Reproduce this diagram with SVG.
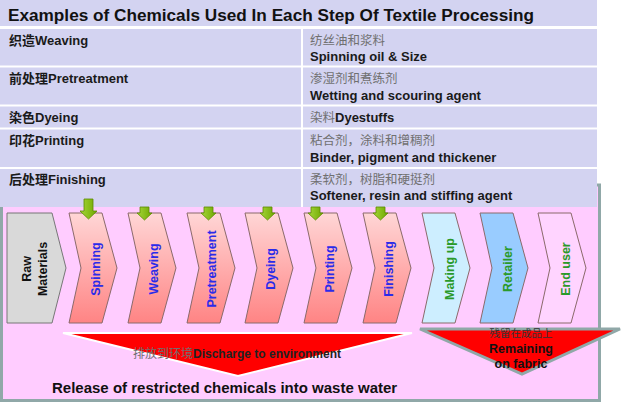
<svg xmlns="http://www.w3.org/2000/svg" width="622" height="404" viewBox="0 0 622 404">
<defs>
<linearGradient id="redG" x1="0" y1="0" x2="0" y2="1">
<stop offset="0" stop-color="#ffd6d6"/>
<stop offset="1" stop-color="#ff8484"/>
</linearGradient>
<linearGradient id="greenG" x1="0" y1="0" x2="1" y2="0">
<stop offset="0" stop-color="#a6d63a"/>
<stop offset="1" stop-color="#6fa800"/>
</linearGradient>
</defs>
<style>
text { font-family: "Liberation Sans", "Noto Sans CJK SC", sans-serif; }
.title { font-size: 17.2px; font-weight: bold; fill: #111; }
.cell { font-size: 13px; font-weight: bold; fill: #1a1a1a; }
.cn { font-size: 12.5px; font-weight: normal; fill: #707070; }
.band { fill: #d3d3f1; }
.sep { stroke: #ffffff; stroke-width: 2; }
.chev { stroke: #8a6a6a; stroke-width: 1; }
.red { fill: url(#redG); }
.lbl { font-size: 12.5px; font-weight: bold; text-anchor: middle; }
.blue { fill: #2b2bea; }
.green { fill: #2a9a2a; }
.arrow { fill: url(#greenG); stroke: #5c8c00; stroke-width: 0.8; }
</style>

<g id="panel">
<rect x="1.5" y="185" width="598" height="215.5" fill="#ffccff" stroke="#90a8a8" stroke-width="3"/>
</g>

<g id="table">
<rect class="band" x="0" y="0" width="597" height="26"/>
<text class="title" x="8" y="21">Examples of Chemicals Used In Each Step Of Textile Processing</text>
<rect class="band" x="0" y="29" width="597" height="178"/>
<line class="sep" x1="0" y1="66.5" x2="597" y2="66.5"/>
<line class="sep" x1="0" y1="105.5" x2="597" y2="105.5"/>
<line class="sep" x1="0" y1="128.5" x2="597" y2="128.5"/>
<line class="sep" x1="0" y1="168" x2="597" y2="168"/>
<line class="sep" x1="302" y1="29" x2="302" y2="207"/>
</g>

<g id="row-weaving">
<text class="cell" x="9" y="45">织造Weaving</text>
<text class="cn" x="310" y="45">纺丝油和浆料</text>
<text class="cell" x="310" y="61">Spinning oil &amp; Size</text>
</g>
<g id="row-pretreatment">
<text class="cell" x="9" y="83">前处理Pretreatment</text>
<text class="cn" x="310" y="83">渗湿剂和煮练剂</text>
<text class="cell" x="310" y="100">Wetting and scouring agent</text>
</g>
<g id="row-dyeing">
<text class="cell" x="9" y="122">染色Dyeing</text>
<text class="cell" x="310" y="122"><tspan class="cn">染料</tspan>Dyestuffs</text>
</g>
<g id="row-printing">
<text class="cell" x="9" y="145">印花Printing</text>
<text class="cn" x="310" y="145">粘合剂，涂料和增稠剂</text>
<text class="cell" x="310" y="162">Binder, pigment and thickener</text>
</g>
<g id="row-finishing">
<text class="cell" x="9" y="184">后处理Finishing</text>
<text class="cn" x="310" y="184">柔软剂，树脂和硬挺剂</text>
<text class="cell" x="310" y="200">Softener, resin and stiffing agent</text>
</g>

<g id="raw-materials">
<polygon points="7,213 52,213 66,268 52,323 7,323" fill="#d9d9d9" stroke="#777" stroke-width="1"/>
<g transform="translate(34,269) rotate(-90)">
<text class="lbl" x="0" y="-3.5" fill="#111">Raw</text>
<text class="lbl" x="0" y="12.5" fill="#111">Materials</text>
</g>
</g>

<g id="spinning">
<polygon class="chev red" points="69,213 102,213 117,268 102,323 69,323 81,268"/>
<text class="lbl blue" transform="translate(95,269) rotate(-90)" y="4.5">Spinning</text>
</g>
<g id="weaving">
<polygon class="chev red" points="128,213 161,213 176,268 161,323 128,323 140,268"/>
<text class="lbl blue" transform="translate(153,269) rotate(-90)" y="4.5">Weaving</text>
</g>
<g id="pretreatment">
<polygon class="chev red" points="187,213 220,213 235,268 220,323 187,323 199,268"/>
<text class="lbl blue" transform="translate(211,269) rotate(-90)" y="4.5">Pretreatment</text>
</g>
<g id="dyeing">
<polygon class="chev red" points="245,213 278,213 293,268 278,323 245,323 257,268"/>
<text class="lbl blue" transform="translate(270,269) rotate(-90)" y="4.5">Dyeing</text>
</g>
<g id="printing">
<polygon class="chev red" points="304,213 337,213 352,268 337,323 304,323 316,268"/>
<text class="lbl blue" transform="translate(329,269) rotate(-90)" y="4.5">Printing</text>
</g>
<g id="finishing">
<polygon class="chev red" points="363,213 396,213 411,268 396,323 363,323 375,268"/>
<text class="lbl blue" transform="translate(388,269) rotate(-90)" y="4.5">Finishing</text>
</g>
<g id="making-up">
<polygon class="chev" points="422,213 455,213 470,268 455,323 422,323 434,268" fill="#cdeeff" stroke="#777"/>
<text class="lbl green" transform="translate(449,269) rotate(-90)" y="4.5">Making up</text>
</g>
<g id="retailer">
<polygon class="chev" points="480,213 513,213 528,268 513,323 480,323 492,268" fill="#99ccff" stroke="#777"/>
<text class="lbl green" transform="translate(507,269) rotate(-90)" y="4.5">Retailer</text>
</g>
<g id="end-user">
<polygon class="chev" points="538,213 571,213 586,268 571,323 538,323 550,268" fill="#ffd4ff" stroke="#888"/>
<text class="lbl green" transform="translate(565,269) rotate(-90)" y="4.5">End user</text>
</g>

<g id="connectors">
<polygon class="arrow" points="84,199 93,199 93,211 97,211 88.5,219 80,211 84,211"/>
<polygon class="arrow" points="140,207 149,207 149,213 152,213 144.5,220 137,213 140,213"/>
<polygon class="arrow" points="204,207 213,207 213,213 216,213 208.5,220 201,213 204,213"/>
<polygon class="arrow" points="263,207 272,207 272,213 275,213 267.5,220 260,213 263,213"/>
<polygon class="arrow" points="311,207 320,207 320,213 323,213 315.5,220 308,213 311,213"/>
<polygon class="arrow" points="376,207 385,207 385,213 388,213 380.5,220 373,213 376,213"/>
</g>

<g id="discharge">
<polygon points="63,333 412,333 238,376" fill="#ff0000" stroke="#ffffff" stroke-width="2"/>
<text x="237" y="358" text-anchor="middle" style="font-size:12px;font-weight:bold;fill:#222"><tspan style="font-weight:normal;fill:#707070">排放到环境</tspan>Discharge  to environment</text>
</g>

<g id="remaining">
<polygon points="420,329 620,329 522,374" fill="#ff0000" stroke="#90a8a8" stroke-width="3"/>
<text x="521" y="337" text-anchor="middle" style="font-size:10.5px;fill:#333">残留在成品上</text>
<text x="521" y="353" text-anchor="middle" style="font-size:12.5px;font-weight:bold;fill:#111">Remaining</text>
<text x="521" y="368" text-anchor="middle" style="font-size:12.5px;font-weight:bold;fill:#111">on fabric</text>
</g>

<g id="release">
<text x="52" y="393" style="font-size:15px;font-weight:bold;fill:#111">Release of restricted chemicals into waste water</text>
</g>
</svg>
